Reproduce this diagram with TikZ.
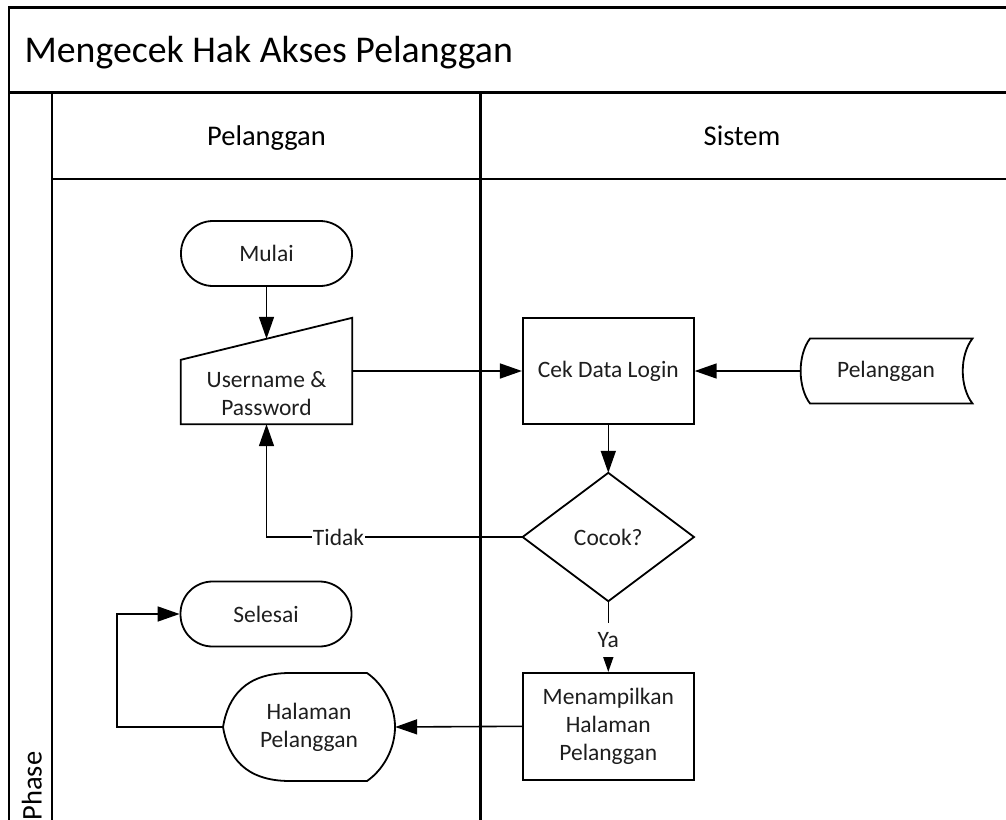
\documentclass[tikz,border=0pt]{standalone}
\usepackage{fontspec}
\setmainfont{Carlito}
\usetikzlibrary{arrows.meta,calc}
\definecolor{ink}{HTML}{1E1E1E}

\begin{document}
\begin{tikzpicture}[x=1pt,y=-1pt,
  frameline/.style={line width=2.2pt},
  outline/.style={draw,line width=1.8pt},
  shapetext/.style={text=ink,font={\fontsize{23.5}{28}\selectfont},align=center,inner sep=0pt},
  box/.style={shapetext,rectangle,minimum width=171pt},
  term/.style={box,draw,line width=1.8pt,rounded corners=32pt,minimum height=65pt},
  proc/.style={box,draw,line width=1.8pt,minimum height=106pt},
  flow/.style={line width=1.6pt,-{Triangle[length=22pt,width=15pt]}},
  lbl/.style={shapetext,fill=white,inner xsep=1pt},
  headtext/.style={font={\fontsize{28.5}{34}\selectfont}},
]
\useasboundingbox (0,0) rectangle (1006,819);
\clip (0,0) rectangle (1006,819);

% pool frame, title bar, lane headers and lane dividers
\draw[frameline] (9.3,1000) |- (1100,7.5);
\draw[frameline] (9.3,92.5) -- (1100,92.5);
\draw[frameline] (52.3,92.5) -- (52.3,1000);
\draw[frameline] (52.3,179) -- (1100,179);
\draw[frameline] (480.5,92.5) -- (480.5,1000);

\node[anchor=base west,font={\fontsize{37.8}{45}\selectfont}] (title) at (21,62) {Mengecek Hak Akses Pelanggan};
\node[headtext,anchor=base] (laneA) at (266.5,145) {Pelanggan};
\node[headtext,anchor=base] (laneB) at (742,145) {Sistem};
\node[headtext,rotate=90,anchor=base] (phase) at (41.5,786) {Phase};

% flow symbols
\node[term] (start) at (266.5,253.5) {Mulai};

\node[box,minimum height=106pt] (inp) at (266.5,371) {};
\draw[outline] (inp.south west) -- (inp.south east) -- (inp.north east)
  -- ($(inp.north west)+(0,42)$) -- cycle;
\node[shapetext] (inpText) at (266.5,394) {Username \&\\Password};
\coordinate (inTop) at ($(inp.north)+(0,21)$);

\node[proc] (cek) at (608.3,371) {Cek Data Login};

\node[box,minimum width=172pt,minimum height=65pt] (ds) at (886,371) {Pelanggan};
\begin{scope}[shift={(ds.center)}]
  \draw[outline] (-76,-32.5) -- (86.5,-32.5)
    .. controls (73.5,-16) and (73.5,16) .. (86.5,32.5)
    -- (-76,32.5)
    .. controls (-88.5,16) and (-88.5,-16) .. (-76,-32.5) -- cycle;
\end{scope}

\node[box,minimum height=128pt] (dia) at (608.3,537) {Cocok?};
\draw[outline] (dia.north) -- (dia.east) -- (dia.south) -- (dia.west) -- cycle;

\node[proc,minimum height=107pt] (men) at (608.3,726.3) {Menampilkan\\Halaman\\Pelanggan};

\node[term] (sel) at (266,614) {Selesai};

\node[box,minimum width=172pt,minimum height=108pt] (hal) at (309,727) {Halaman\\Pelanggan};
\begin{scope}[shift={(hal.center)}]
  \draw[outline] (58,-54) -- (-19,-54)
    .. controls (-64,-54) and (-81,-30) .. (-86,0)
    .. controls (-81,30) and (-64,54) .. (-19,54)
    -- (58,54)
    .. controls (74,43) and (86,22) .. (86,0)
    .. controls (86,-22) and (74,-43) .. (58,-54) -- cycle;
\end{scope}
\coordinate (loop) at (116.7,727);

% connectors
\draw[flow] (start.south) -- (inTop);
\draw[flow] (inp.east) -- (cek.west);
\draw[flow] (ds.west) -- (cek.east);
\draw[flow] (cek.south) -- (dia.north);
\draw[flow] (dia.west) -| (inp.south);
\draw[flow] (dia.south) -- (men.north);
\draw[flow] (men.west) -- (hal.east);
\draw[flow] (hal.west) -- (loop) |- (sel.west);

% branch labels
\node[lbl,inner ysep=2pt] (tidak) at (338.5,537) {Tidak};
\node[lbl,inner ysep=9pt] (ya) at (608.3,640) {Ya};
\end{tikzpicture}
\end{document}
